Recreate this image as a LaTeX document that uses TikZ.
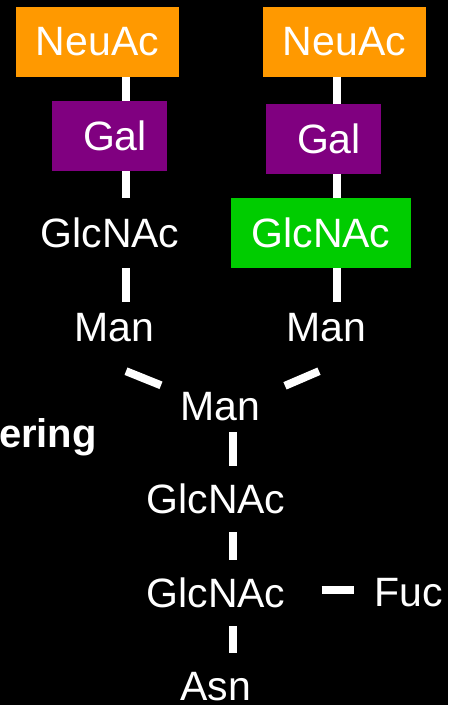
\documentclass[tikz,border=0pt]{standalone}
\usepackage{fontspec}
\setmainfont{Liberation Sans}
\usepackage{tikz}
\usetikzlibrary{
  positioning,
  calc,
  }
\definecolor{neucol}{HTML}{FF9900}
\definecolor{galcol}{HTML}{800080}
\definecolor{glccol}{HTML}{00CC00}

\begin{document}
\begin{tikzpicture}[x=1pt, y=-1pt,
    every node/.style={text=white, inner sep=0pt, font=\fontsize{41}{49}\selectfont},
    sugar/.style={minimum height=66pt},
    mannose/.style={minimum height=50pt},
    box/.style={minimum height=70pt},
    link/.style={draw=white, line width=8pt}]
                \fill[black] (0,0) rectangle (448,705);
                \useasboundingbox (0,0) rectangle (448,705);

                % left antenna
                \node[box, fill=neucol, minimum width=163pt] (neuL) at (97.5,42) {NeuAc};
                \node[box, fill=galcol, minimum width=115pt] (galL) at (109.5,136) {\hspace*{11pt}Gal};
                \node[box, minimum width=140pt] (glcL) at (110,233) {GlcNAc};
                \node[mannose] (manL) at (114,327.5) {Man};

                % right antenna
                \node[box, fill=neucol, minimum width=163pt] (neuR) at (344.5,42) {NeuAc};
                \node[box, fill=galcol, minimum width=115pt] (galR) at (323.5,139) {\hspace*{11pt}Gal};
                \node[box, fill=glccol, minimum width=180pt] (glcR) at (321,233) {GlcNAc};
                \node[mannose] (manR) at (326,327.5) {Man};

                % core
                \node[mannose] (manC) at (220,407) {Man};
                \node[sugar] (glcA) at (216,499) {GlcNAc};
                \node[sugar] (glcB) at (216,593) {GlcNAc};
                \node[sugar] (fuc) at (409,593) {Fuc};
                \node[sugar] (asn) at (215.5,686.5) {Asn};
                \node[anchor=base east, font=\fontsize{40}{48}\selectfont\bfseries] (title) at (97,447) {ering};

                \coordinate (axL) at (126,0);
                \coordinate (axR) at (337,0);
                \coordinate (axC) at (233,0);

                \draw[link] (neuL.south -| axL) -- (galL.north -| axL);
                \draw[link] (galL.south -| axL) -- (glcL.north -| axL);
                \draw[link] (glcL.south -| axL) -- (manL.north -| axL);
                \draw[link] (neuR.south -| axR) -- (galR.north -| axR);
                \draw[link] (galR.south -| axR) -- (glcR.north -| axR);
                \draw[link] (glcR.south -| axR) -- (manR.north -| axR);

                \draw[link] ($(manL.south)+(12,18.5)$) -- ($(manC.north)+(-59,3.5)$);
                \draw[link] ($(manR.south)+(-7,18.5)$) -- ($(manC.north)+(65,4)$);

                \draw[link] (manC.south -| axC) -- (glcA.north -| axC);
                \draw[link] (glcA.south -| axC) -- (glcB.north -| axC);
                \draw[link] (glcB.south -| axC) -- (asn.north -| axC);
                \draw[link, shorten <=36pt, shorten >=21pt] ([yshift=3.5pt]glcB.east) -- ([yshift=3.5pt]fuc.west);
            \end{tikzpicture}
\end{document}
